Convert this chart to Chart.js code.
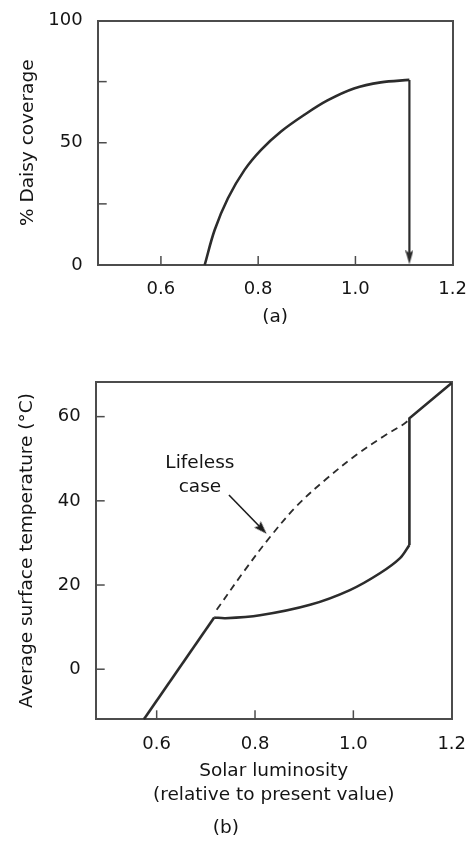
<!DOCTYPE html>
<html><head><meta charset="utf-8">
<script src="https://cdn.jsdelivr.net/npm/chart.js@4"></script>
<style>
html,body{margin:0;padding:0;background:#fff;}
#wrap{position:relative;width:473px;height:842px;overflow:hidden;}
.panel{position:absolute;left:0;}
</style></head><body>
<div id="wrap">
  <div class="panel" style="top:0;width:473px;height:340px"><canvas id="c1" width="473" height="340"></canvas></div>
  <div class="panel" style="top:340px;width:473px;height:502px"><canvas id="c2" width="473" height="502"></canvas></div>
</div>
<script>
// ---------- data ----------
const xTicks = [0.6, 0.8, 1.0, 1.2];
const coverageTicks = [0, 25, 50, 75, 100];
const coverageLabelled = [0, 50, 100];
const tempTicks = [0, 20, 40, 60];

// (a) daisy coverage vs luminosity
const daisyLum   = [0.690, 0.7105, 0.7378, 0.772, 0.806, 0.847, 0.8948, 0.9425, 0.997, 1.052, 1.111];
const daisyCover = [0,     14.3,   27.3,   38.9,  47.1,  54.6,  61.4,   67.3,   72.2,  74.7,  75.7];
const dropLum    = [1.111, 1.111];
const dropCover  = [75.7, 3.1];

// (b) surface temperature vs luminosity
const rampLum      = [0.574, 0.717];
const rampTemp     = [-11.9, 12.3];
const regLum       = [0.717, 0.74, 0.81, 0.912, 0.993, 1.054, 1.095, 1.114];
const regTemp      = [12.3,  12.1, 12.8, 15.3,  18.8,  22.8,  26.4,  29.5];
const jumpLum      = [1.114, 1.114, 1.2];
const jumpTemp     = [29.5,  59.6,  68.0];
const lifelessLum  = [0.722, 0.776, 0.8305, 0.885, 0.946, 1.007, 1.061, 1.102, 1.114];
const lifelessTemp = [14.1,  23.0,  31.4,   38.8,  45.3,  51.0,  55.3,  58.2,  59.3];
const pointerLum   = [0.747, 0.8142];
const pointerTemp  = [41.4, 33.3];
const noteLines    = ['Lifeless', 'case'];
const noteAt       = [0.688, 46.1];

// ---------- helpers ----------
const zip = (xs, ys) => xs.map((x, i) => ({x: x, y: ys[i]}));
const FONT = "'DejaVu Sans', 'Liberation Sans', sans-serif";
const INK = '#141414';
const LINE = '#2c2c2c';
const AXIS = '#4c4c4c';

function makeHead(w, h, color) {
  const c = document.createElement('canvas');
  c.width = w; c.height = h;
  const g = c.getContext('2d');
  g.fillStyle = color;
  g.beginPath(); g.moveTo(w / 2, 0); g.lineTo(w, h); g.lineTo(w / 2, h * 0.82); g.lineTo(0, h); g.closePath();
  g.fill();
  return c;
}
const headA = makeHead(8, 14, LINE);
const headB = makeHead(9, 13, '#1c1c1c');

const innerTicks = {
  id: 'innerTicks',
  afterDraw(chart) {
    const ctx = chart.ctx, a = chart.chartArea;
    const xs = chart.scales.x, ys = chart.scales.y;
    ctx.save();
    ctx.strokeStyle = AXIS; ctx.lineWidth = 1.5;
    xs.ticks.forEach(t => {
      const p = xs.getPixelForValue(t.value);
      if (p > a.left + 2 && p < a.right - 2) {
        ctx.beginPath(); ctx.moveTo(p, a.bottom); ctx.lineTo(p, a.bottom - 9); ctx.stroke();
      }
    });
    ys.ticks.forEach(t => {
      const p = ys.getPixelForValue(t.value);
      if (p > a.top + 2 && p < a.bottom - 2) {
        ctx.beginPath(); ctx.moveTo(a.left, p); ctx.lineTo(a.left + 9, p); ctx.stroke();
      }
    });
    ctx.restore();
  }
};

const noteText = {
  id: 'noteText',
  afterDatasetsDraw(chart, args, opts) {
    if (!opts || !opts.lines) return;
    const ctx = chart.ctx;
    const x = chart.scales.x.getPixelForValue(opts.at[0]);
    const y = chart.scales.y.getPixelForValue(opts.at[1]);
    const n = opts.lines.length;
    ctx.save();
    ctx.font = '18.5px ' + FONT;
    ctx.fillStyle = INK; ctx.textAlign = 'center'; ctx.textBaseline = 'middle';
    opts.lines.forEach((s, i) => ctx.fillText(s, x, y + (i - (n - 1) / 2) * 23.4));
    ctx.restore();
  }
};

function frameAxes(min, max, horizontal) {
  return {
    type: 'linear', display: true, min: min, max: max,
    position: horizontal ? 'top' : 'right',
    ticks: {display: false}, grid: {display: false},
    border: {display: true, color: AXIS, width: 2},
    afterFit(s) { if (horizontal) s.height = 0; else s.width = 0; }
  };
}

function lineDs(data, extra) {
  return Object.assign({
    data: data, borderColor: LINE, backgroundColor: LINE, borderWidth: 2.6,
    pointRadius: 0, fill: false, tension: 0, clip: 8
  }, extra || {});
}

// ---------- chart (a) ----------
new Chart(document.getElementById('c1'), {
  type: 'line',
  data: {
    datasets: [
      lineDs(zip(daisyLum, daisyCover), {tension: 0.35}),
      lineDs(zip(dropLum, dropCover), {
        borderWidth: 2.2,
        pointRadius: [0, 7], pointStyle: ['circle', headA], pointRotation: 180
      })
    ]
  },
  options: {
    responsive: false, animation: false, events: [],
    layout: {padding: {top: 20.5, right: 18, left: 0, bottom: 0}},
    plugins: {legend: {display: false}, tooltip: {enabled: false}, title: {display: false}},
    scales: {
      x: {
        type: 'linear', position: 'bottom', min: 0.47, max: 1.2,
        afterBuildTicks(s) { s.ticks = xTicks.map(v => ({value: v})); },
        ticks: {font: {family: FONT, size: 18}, color: INK, padding: 6,
                callback: v => Number(v).toFixed(1), maxRotation: 0},
        grid: {display: false},
        border: {display: true, color: AXIS, width: 2},
        title: {display: true, text: '(a)', color: INK,
                font: {family: FONT, size: 18.5, lineHeight: 1.2}, padding: {top: 0, bottom: 12.2}},
        afterFit(s) { s.height = 75; }
      },
      y: {
        type: 'linear', position: 'left', min: 0, max: 100,
        afterBuildTicks(s) { s.ticks = coverageTicks.map(v => ({value: v})); },
        ticks: {font: {family: FONT, size: 18}, color: INK, padding: 7,
                callback: v => coverageLabelled.includes(v) ? String(v) : ''},
        grid: {display: false},
        border: {display: true, color: AXIS, width: 2},
        title: {display: true, text: '% Daisy coverage', color: INK,
                font: {family: FONT, size: 18.5, lineHeight: 1.2}, padding: {top: 17.2, bottom: 0}},
        afterFit(s) { s.width = 97.7; }
      },
      x2: frameAxes(0.47, 1.2, true),
      y2: frameAxes(0, 100, false)
    }
  },
  plugins: [innerTicks]
});

// ---------- chart (b) ----------
new Chart(document.getElementById('c2'), {
  type: 'line',
  data: {
    datasets: [
      lineDs(zip(rampLum, rampTemp)),
      lineDs(zip(regLum, regTemp), {tension: 0.35}),
      lineDs(zip(jumpLum, jumpTemp)),
      lineDs(zip(lifelessLum, lifelessTemp), {tension: 0.35,
        borderWidth: 1.8, borderDash: [7, 5]}),
      lineDs(zip(pointerLum, pointerTemp), {
        borderWidth: 1.6, borderColor: '#1c1c1c',
        pointRadius: [0, 6.5], pointStyle: ['circle', headB], pointRotation: 136
      })
    ]
  },
  options: {
    responsive: false, animation: false, events: [],
    layout: {padding: {top: 41.7, right: 21.3, left: 0, bottom: 0}},
    plugins: {
      legend: {display: false}, tooltip: {enabled: false},
      title: {display: true, position: 'bottom', text: '(b)', color: INK,
              font: {family: FONT, size: 18.5, lineHeight: 1.2, weight: 'normal'},
              padding: {top: 5.2, bottom: 2.6}},
      noteText: {lines: noteLines, at: noteAt}
    },
    scales: {
      x: {
        type: 'linear', position: 'bottom', min: 0.476, max: 1.2,
        afterBuildTicks(s) { s.ticks = xTicks.map(v => ({value: v})); },
        ticks: {font: {family: FONT, size: 18}, color: INK, padding: 6.6,
                callback: v => Number(v).toFixed(1), maxRotation: 0},
        grid: {display: false},
        border: {display: true, color: AXIS, width: 2},
        title: {display: true, text: ['Solar luminosity', '(relative to present value)'], color: INK,
                font: {family: FONT, size: 18.5, lineHeight: 1.3}, padding: {top: 0, bottom: 4.3}},
        afterFit(s) { s.height = 92.7; }
      },
      y: {
        type: 'linear', position: 'left', min: -11.9, max: 68.3,
        afterBuildTicks(s) { s.ticks = tempTicks.map(v => ({value: v})); },
        ticks: {font: {family: FONT, size: 18}, color: INK, padding: 7},
        grid: {display: false},
        border: {display: true, color: AXIS, width: 2},
        title: {display: true, text: 'Average surface temperature (°C)', color: INK,
                font: {family: FONT, size: 18.5, lineHeight: 1.2}, padding: {top: 15.6, bottom: 0}},
        afterFit(s) { s.width = 95.7; }
      },
      x2: frameAxes(0.476, 1.2, true),
      y2: frameAxes(-11.9, 68.3, false)
    }
  },
  plugins: [innerTicks, noteText]
});
</script>
</body></html>
